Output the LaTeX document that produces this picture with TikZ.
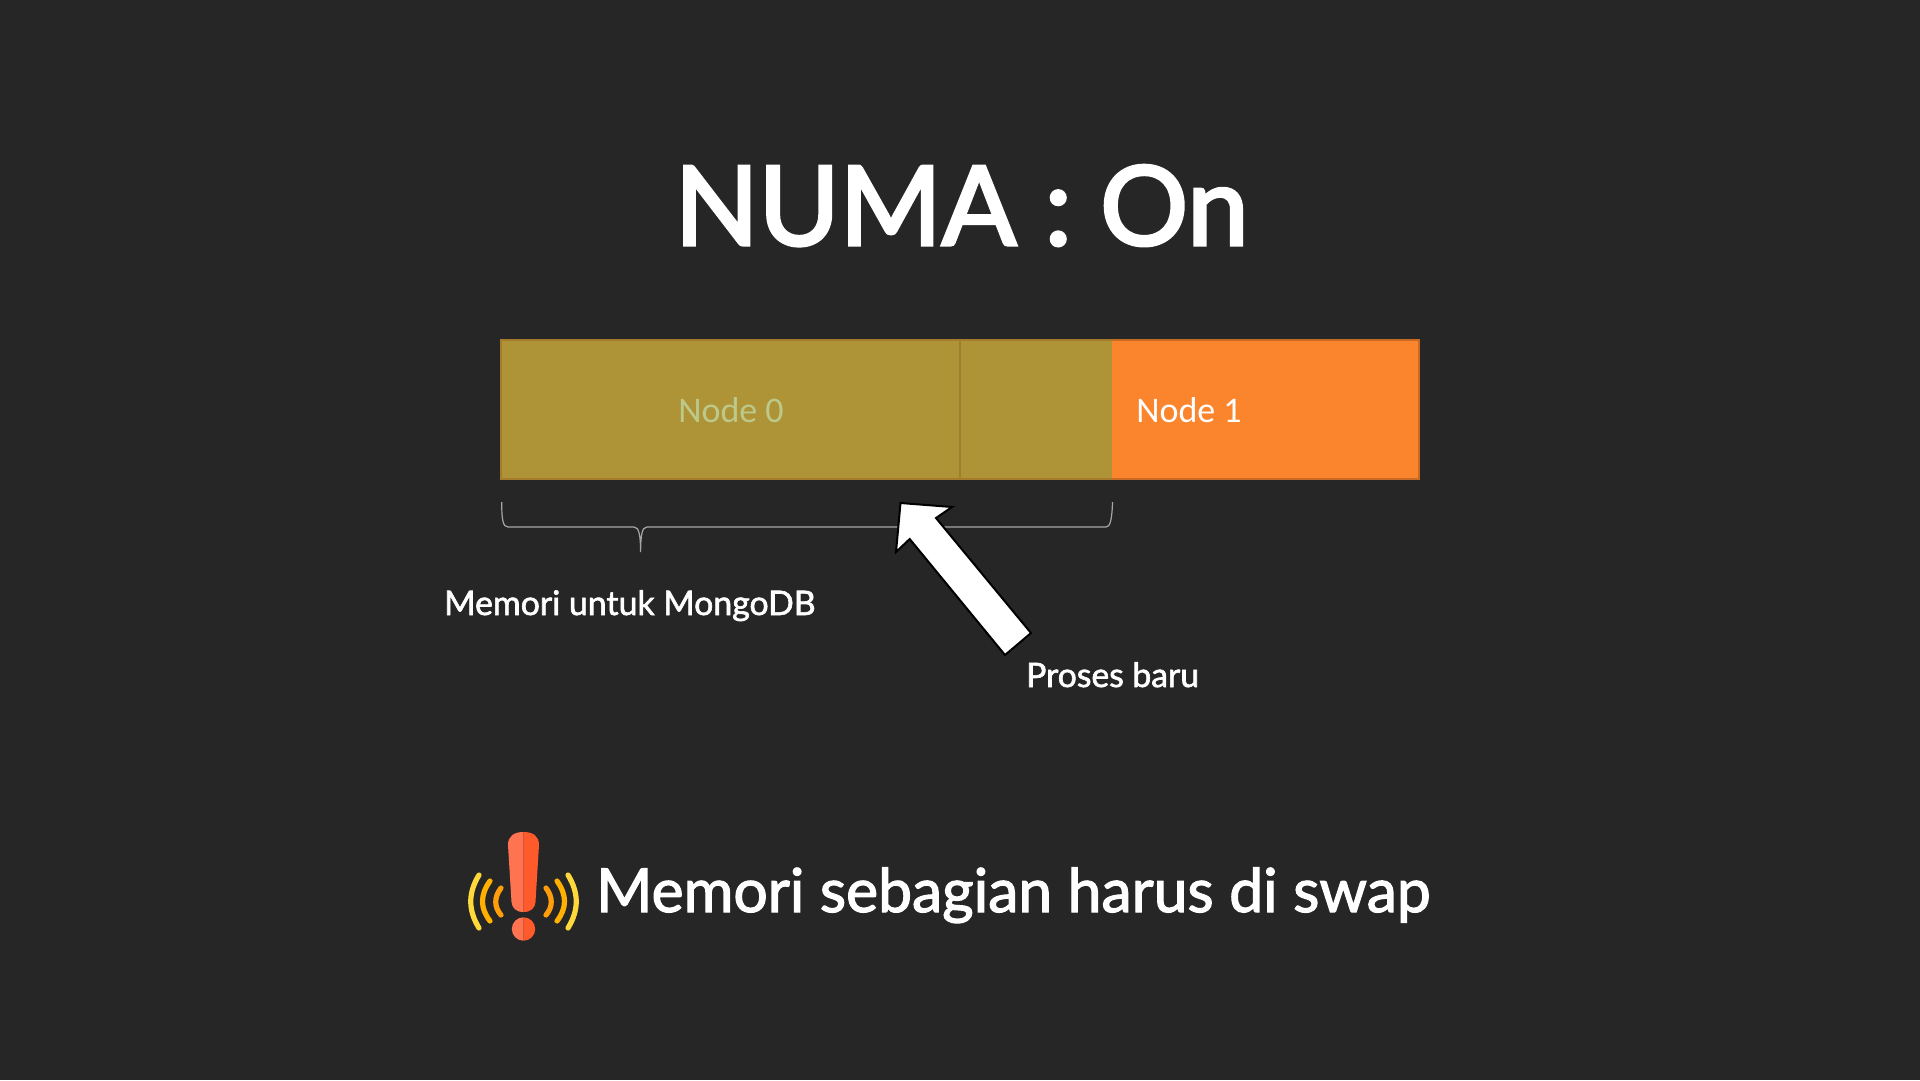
\documentclass[tikz,border=0pt]{standalone}
\usepackage{fontspec}
\setmainfont{Lato}[FakeBold=1.6]
\newfontfamily\plainbold{Lato}[FakeBold=1.6]
\newfontfamily\bodyfont{Carlito}
\definecolor{bg}{HTML}{262626}
\definecolor{olive}{HTML}{AE9337}
\definecolor{oliveline}{HTML}{9C8230}
\definecolor{oliveedge}{HTML}{A67C2C}
\definecolor{orangefill}{HTML}{FB852D}
\definecolor{orangeline}{HTML}{C96A24}
\definecolor{nodegreen}{HTML}{BCC98A}
\definecolor{bracegray}{HTML}{A6A6A6}
\definecolor{waveA}{HTML}{FFD93B}
\definecolor{waveB}{HTML}{FFB000}
\definecolor{waveC}{HTML}{FF9D0A}
\definecolor{markL}{HTML}{FF7350}
\definecolor{markR}{HTML}{FF5A2C}
\tikzset{
  lbl/.style={text=white,inner sep=0pt,anchor=base west,font=\plainbold\addfontfeature{FakeBold=#1}},
  wave/.style={line width=5.2pt,line cap=round},
  nodelbl/.style={inner sep=0pt,anchor=base,font=\bodyfont\fontsize{36}{36}\selectfont}
}
\begin{document}
\begin{tikzpicture}[x=1pt,y=-1pt]
\useasboundingbox[fill=bg] (0,0) rectangle (1920,1080);
% memory bar
\fill[orangefill] (1112,340) rectangle (1419,479);
\fill[olive] (501,340) rectangle (1112,479);
\draw[oliveline,line width=1.6pt] (960,340) -- (960,479);
\draw[oliveedge,line width=2pt] (1112,339.5) -- (501,339.5) -- (501,479) -- (1112,479);
\draw[orangeline,line width=2pt] (1112,339.5) -- (1419,339.5) -- (1419,479) -- (1112,479);
\node[nodelbl,text=nodegreen] (n0) at (731,422) {Node 0};
\node[nodelbl,text=white] (n1) at (1189,422) {Node 1};
% brace
\draw[bracegray,line width=1.2pt] (501.7,502) .. controls (501.7,520) and (503,527) .. (508,527)
  -- (634,527) .. controls (639,527) and (640.5,535) .. (640.6,552)
  .. controls (640.7,535) and (642,527) .. (647,527)
  -- (1106,527) .. controls (1110,527) and (1112,520) .. (1112.5,502);
% arrow
\draw[fill=white,draw=black,line width=2pt,line join=miter]
  (900.5,503) -- (952,507) -- (936,518) -- (1031,633) -- (1005,655) -- (909.7,539) -- (896,552) -- cycle;
% labels
\node[lbl=3] (title) at (674.5,245) {\fontsize{110}{110}\selectfont NUMA : On};
\node[lbl=1.8] (mem) at (444,615) {\fontsize{33.8}{33.8}\selectfont Memori untuk MongoDB};
\node[lbl=1.8] (pro) at (1026,687) {\fontsize{33.7}{33.7}\selectfont Proses baru};
\node[lbl=2] (swap) at (596,912) {\fontsize{60.6}{60.6}\selectfont Memori sebagian harus di swap};
% warning icon
\draw[wave,color=waveA] (479,875) .. controls (468,893) and (468,910) .. (479,928);
\draw[wave,color=waveB] (490,881) .. controls (480,895) and (480,908) .. (490,921);
\draw[wave,color=waveC] (501,888) .. controls (494,897) and (494,907) .. (501,915);
\draw[wave,color=waveC] (546,888) .. controls (553,897) and (553,907) .. (546,915);
\draw[wave,color=waveB] (557,881) .. controls (567,895) and (567,908) .. (557,921);
\draw[wave,color=waveA] (568,875) .. controls (579,893) and (579,910) .. (568,928);
\fill[markL] (508,845) .. controls (508,836) and (514,832) .. (523.5,832)
  -- (523.5,912) .. controls (516,912) and (512,908) .. (511.5,902) -- cycle;
\fill[markR] (539,845) .. controls (539,836) and (533,832) .. (523.5,832)
  -- (523.5,912) .. controls (531,912) and (535,908) .. (535.5,902) -- cycle;
\fill[markL] (523.5,940.7) arc[start angle=90,end angle=270,radius=11.7];
\fill[markR] (523.5,940.7) arc[start angle=90,end angle=-90,radius=11.7];
\end{tikzpicture}
\end{document}
